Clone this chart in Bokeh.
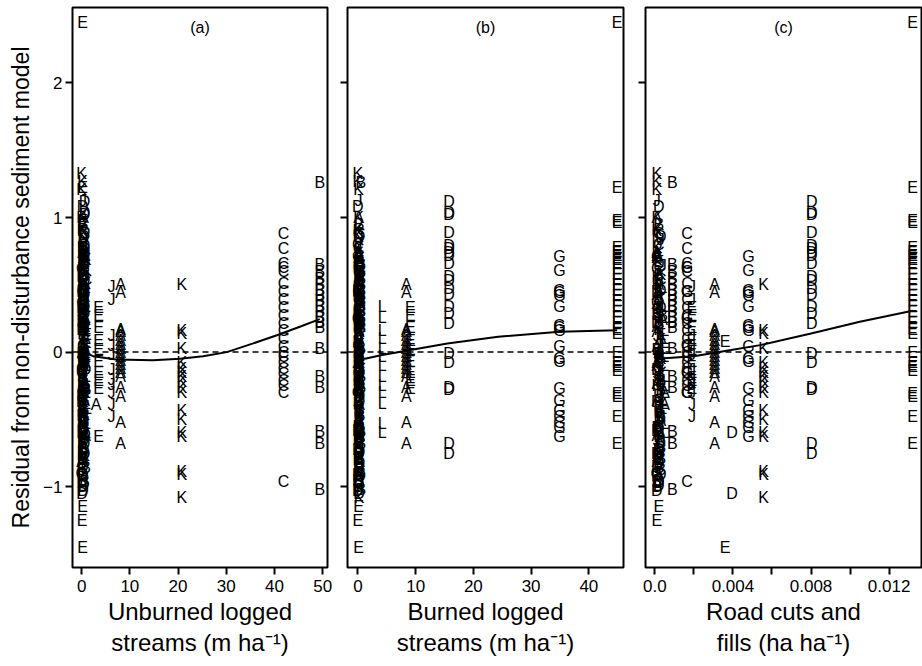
import pandas as pd
from bokeh.plotting import figure
from bokeh.layouts import row
from bokeh.models import (ColumnDataSource, FixedTicker, Range1d, Span, Label,
                          Title, CustomJSTickFormatter)
from bokeh.core.properties import value
from bokeh.embed import file_html
from bokeh.resources import INLINE

# ---------------- data ----------------
# Groups of observations for one site letter sharing the three disturbance values
grp_site = ["A", "J", "K", "C", "B", "G", "D", "E", "L", "E"]
grp_unburned = [8.1, 6.2, 20.8, 41.9, 49.4, 0.4, 0.6, 0.2, 1.0, 3.5]      # m/ha
grp_burned = [8.4, 0.3, 0.2, 0.1, 0.5, 34.9, 15.8, 44.9, 4.2, 9.1]        # m/ha
grp_road = [0.00306, 0.0019, 0.00557, 0.00165, 0.0009, 0.0048, 0.00804,
            0.0132, 0.0005, 0.0019]                                      # ha/ha

resid_A = [0.50, 0.44, 0.17, 0.15, 0.12, 0.09, 0.06, 0.03, 0.0, -0.03, -0.06,
           -0.09, -0.12, -0.15, -0.18, -0.26, -0.33, -0.52, -0.68]
resid_J = [0.49, 0.39, 0.12, 0.05, -0.02, -0.13, -0.20, -0.24, -0.30, -0.39, -0.48]
resid_K = [0.50, 0.16, 0.14, 0.03, -0.08, -0.12, -0.15, -0.18, -0.22, -0.26,
           -0.30, -0.43, -0.50, -0.60, -0.63, -0.89, -0.91, -1.08]
resid_C = [0.88, 0.77, 0.66, 0.63, 0.60, 0.51, 0.45, 0.39, 0.33, 0.27, 0.21,
           0.16, 0.10, 0.04, 0.0, -0.03, -0.08, -0.12, -0.16, -0.21, -0.25,
           -0.30, -0.96]
resid_B = [1.26, 0.65, 0.60, 0.55, 0.50, 0.46, 0.42, 0.38, 0.34, 0.30, 0.26,
           0.22, 0.18, 0.03, -0.18, -0.26, -0.59, -0.68, -1.02]
resid_G = [0.71, 0.61, 0.46, 0.44, 0.42, 0.34, 0.20, 0.18, 0.16, 0.04, -0.05,
           -0.07, -0.27, -0.36, -0.43, -0.48, -0.52, -0.56, -0.63]
resid_D = [1.12, 1.04, 1.02, 0.89, 0.79, 0.77, 0.74, 0.72, 0.66, 0.56, 0.53,
           0.47, 0.43, 0.34, 0.29, 0.21, -0.01, -0.08, -0.26, -0.28, -0.68, -0.75]
resid_E1 = [2.45, 1.22, 0.98, 0.96, 0.78, 0.75, 0.72, 0.69, 0.66, 0.62, 0.58,
            0.54, 0.50, 0.46, 0.42, 0.38, 0.34, 0.30, 0.26, 0.22, 0.17, 0.14,
            0.0, -0.08, -0.11, -0.14, -0.31, -0.33, -0.48, -0.68]
resid_L = [0.34, 0.26, 0.16, 0.10, 0.03, -0.03, -0.10, -0.18, -0.25, -0.30,
           -0.38, -0.53, -0.60]
resid_E2 = [0.33, 0.27, 0.18, 0.09, 0.02, -0.07, -0.15, -0.21, -0.27]
grp_resid = [resid_A, resid_J, resid_K, resid_C, resid_B, resid_G, resid_D,
             resid_E1, resid_L, resid_E2]

# Individual observations of (nearly) undisturbed sites
misc_site = ["K", "K", "K", "J", "D", "K", "A", "K", "J", "K", "A", "E", "J",
             "K", "A", "D", "B", "J", "K", "L", "B", "A", "J", "E", "A", "L",
             "B", "E", "A", "J", "L", "B", "K", "A", "L", "B", "A", "E", "J",
             "B", "D", "E", "B", "L", "D", "B", "D", "G", "D", "B", "D", "D",
             "E", "E", "E", "G", "G", "G", "G", "G", "G"]
misc_resid = [1.33, 1.27, 1.21, 1.13, 1.08, 1.00, 1.00, 0.87, 0.81, 0.78, 0.70,
              0.67, 0.60, 0.56, 0.50, 0.45, 0.40, 0.35, 0.31, 0.26, 0.21, 0.15,
              0.12, 0.08, 0.04, 0.0, -0.03, -0.06, -0.10, -0.14, -0.18, -0.20,
              -0.25, -0.30, -0.35, -0.38, -0.39, -0.45, -0.50, -0.55, -0.60,
              -0.63, -0.65, -0.70, -0.75, -0.80, -0.85, -0.90, -0.95, -1.00,
              -1.03, -1.05, -1.15, -1.25, -1.45, 0.63, 0.45, 0.25, 0.05, -0.15,
              -0.30]
misc_unburned = [0.0, 0.2, 0.0, 0.3, 0.2, 0.0, 0.4, 0.2, 0.5, 0.1, 0.3, 0.6,
                 0.2, 0.0, 0.4, 0.1, 0.5, 0.3, 0.0, 0.8, 0.2, 0.5, 0.1, 0.7,
                 0.3, 0.9, 0.2, 0.6, 0.4, 0.0, 0.8, 0.3, 0.1, 0.5, 0.7, 0.2,
                 3.0, 0.4, 0.0, 0.3, 0.1, 3.5, 0.4, 0.6, 0.2, 0.1, 0.3, 0.0,
                 0.2, 0.1, 0.3, 0.1, 0.2, 0.1, 0.2, 0.5, 0.2, 0.4, 0.3, 0.1,
                 0.2]
misc_burned = [0.0, 0.0, 0.1, 0.1, 0.0, 0.1, 0.1, 0.0, 0.1, 0.2, 0.1, 0.2, 0.0,
               0.1, 0.2, 0.0, 0.1, 0.0, 0.2, 0.1, 0.0, 0.2, 0.1, 0.0, 0.2, 0.1,
               0.0, 0.1, 0.3, 0.1, 0.2, 0.0, 0.1, 0.2, 0.1, 0.0, 0.3, 0.1, 0.2,
               0.0, 0.1, 0.2, 0.0, 0.1, 0.2, 0.0, 0.1, 0.2, 0.0, 0.1, 0.0, 0.2,
               0.1, 0.0, 0.1, 0.2, 0.1, 0.0, 0.1, 0.2, 0.0]
misc_road = [0.0001, 0.0001, 0.0001, 0.0001, 0.0002, 0.0001, 0.0001, 0.0001,
             0.0002, 0.0001, 0.0001, 0.0002, 0.0001, 0.0001, 0.0002, 0.0001,
             0.0002, 0.0001, 0.0001, 0.0003, 0.0002, 0.0001, 0.0001, 0.0036,
             0.0001, 0.0003, 0.0002, 0.0002, 0.0001, 0.0001, 0.0004, 0.0003,
             0.0001, 0.0005, 0.0004, 0.0002, 0.0005, 0.0002, 0.0001, 0.0002,
             0.00395, 0.0002, 0.0003, 0.0002, 0.0001, 0.0002, 0.0001, 0.0001,
             0.0002, 0.0001, 0.0001, 0.00395, 0.0002, 0.0001, 0.0036, 0.00165,
             0.00165, 0.00165, 0.00165, 0.00165, 0.00165]

# More observations from undisturbed sites (dense column near zero)
extra_site = ["B", "K", "J", "A", "D", "C", "K", "B", "L", "A", "J", "D", "B",
              "K", "A", "E", "L", "J", "B", "D", "K", "A", "C", "J", "B", "L",
              "D", "A", "K", "B", "J", "D", "A", "B", "D", "K", "D", "B", "D",
              "D", "C", "K", "A", "L", "J", "B", "D", "B", "C", "A"]
extra_resid = [0.95, 0.90, 0.84, 0.74, 0.66, 0.62, 0.58, 0.53, 0.48, 0.43, 0.38,
               0.33, 0.28, 0.23, 0.19, 0.13, 0.10, 0.06, 0.02, -0.01, -0.05,
               -0.08, -0.12, -0.16, -0.22, -0.27, -0.32, -0.36, -0.41, -0.47,
               -0.52, -0.57, -0.62, -0.67, -0.72, -0.77, -0.82, -0.87, -0.92,
               -0.97, 0.71, 0.47, 0.24, -0.02, -0.19, -0.43, -0.58, -0.79, 0.88,
               0.36]
extra_unburned = [0.3, 0.1, 0.6, 0.2, 0.4, 0.0, 0.5, 0.2, 0.9, 0.3, 0.7, 0.1,
                  0.4, 0.0, 0.6, 1.0, 0.8, 0.2, 0.5, 0.1, 0.3, 0.7, 0.0, 0.4,
                  0.2, 0.9, 0.1, 0.6, 0.3, 0.0, 0.5, 0.2, 0.8, 0.1, 0.4, 0.6,
                  0.2, 0.0, 0.3, 0.1, 0.5, 0.2, 0.7, 1.0, 0.4, 0.1, 0.3, 0.2,
                  0.6, 0.4]
extra_burned = [0.2, 0.0, 0.3, 0.1, 0.2, 0.4, 0.1, 0.3, 0.0, 0.2, 0.1, 0.3, 0.0,
                0.2, 0.4, 0.1, 0.3, 0.0, 0.2, 0.1, 0.4, 0.0, 0.3, 0.1, 0.2, 0.0,
                0.3, 0.1, 0.2, 0.4, 0.0, 0.1, 0.3, 0.2, 0.0, 0.1, 0.3, 0.2, 0.4,
                0.1, 0.0, 0.2, 0.3, 0.1, 0.4, 0.2, 0.0, 0.1, 0.3, 0.2]
extra_road = [0.0002, 0.0001, 0.0003, 0.0001, 0.0002, 0.0001, 0.0003, 0.0002,
              0.0004, 0.0001, 0.0002, 0.0003, 0.0001, 0.0002, 0.0001, 0.0003,
              0.0004, 0.0002, 0.0001, 0.0002, 0.0003, 0.0001, 0.0002, 0.0001,
              0.0003, 0.0004, 0.0002, 0.0001, 0.0002, 0.0003, 0.0001, 0.0002,
              0.0001, 0.0003, 0.0002, 0.0001, 0.0002, 0.0003, 0.0001, 0.0002,
              0.0001, 0.0002, 0.0004, 0.0003, 0.0001, 0.0002, 0.0001, 0.0003,
              0.0002, 0.0001]

more_site = ["K", "D", "C", "A", "J", "B", "K", "D", "A", "C", "J", "B", "D",
             "K", "A", "L", "J", "B", "C", "D", "K", "A", "B", "J", "D", "L",
             "K", "A", "B", "D", "J", "B", "D", "A", "B", "D", "B", "D", "C",
             "K", "A", "J", "B", "D", "K"]
more_resid = [0.92, 0.86, 0.80, 0.72, 0.64, 0.57, 0.51, 0.46, 0.41, 0.37, 0.32,
              0.27, 0.22, 0.17, 0.11, 0.07, 0.01, -0.04, -0.09, -0.13, -0.17,
              -0.23, -0.28, -0.33, -0.37, -0.42, -0.46, -0.51, -0.56, -0.61,
              -0.66, -0.71, -0.76, -0.81, -0.86, -0.91, -0.96, -0.99, 0.54, 0.29,
              0.0, -0.24, -0.49, -0.74, 0.69]
more_unburned = [0.1, 0.5, 0.3, 0.7, 0.0, 0.4, 0.8, 0.2, 0.6, 0.1, 0.9, 0.3,
                 0.5, 0.0, 0.7, 1.1, 0.2, 0.6, 0.4, 0.8, 0.1, 0.3, 0.9, 0.5,
                 0.0, 1.2, 0.6, 0.2, 0.4, 0.7, 0.1, 0.3, 0.5, 0.0, 0.8, 0.2,
                 0.6, 0.4, 1.0, 0.3, 0.1, 0.7, 0.5, 0.2, 0.9]
more_burned = [0.1, 0.3, 0.0, 0.2, 0.4, 0.1, 0.3, 0.0, 0.2, 0.4, 0.1, 0.0, 0.3,
               0.2, 0.1, 0.4, 0.0, 0.2, 0.3, 0.1, 0.0, 0.4, 0.2, 0.1, 0.3, 0.0,
               0.2, 0.1, 0.4, 0.3, 0.0, 0.2, 0.1, 0.3, 0.4, 0.0, 0.2, 0.1, 0.3,
               0.0, 0.2, 0.4, 0.1, 0.3, 0.2]
more_road = [0.0001, 0.0003, 0.0002, 0.0001, 0.0004, 0.0002, 0.0001, 0.0003,
             0.0002, 0.0001, 0.0002, 0.0004, 0.0001, 0.0002, 0.0003, 0.0005,
             0.0001, 0.0002, 0.0003, 0.0001, 0.0002, 0.0001, 0.0003, 0.0002,
             0.0001, 0.0004, 0.0002, 0.0003, 0.0001, 0.0002, 0.0001, 0.0003,
             0.0002, 0.0001, 0.0002, 0.0003, 0.0001, 0.0002, 0.0003, 0.0001,
             0.0002, 0.0001, 0.0003, 0.0002, 0.0001]

# Smooth (lowess) curves
curve_a_x = [0.2, 2.4, 7.2, 14.8, 20.4, 25.2, 30.1, 35.6, 40.5, 45.4, 49.4]
curve_a_y = [0.0, -0.03, -0.055, -0.06, -0.05, -0.03, 0.0, 0.065, 0.125, 0.19, 0.245]
curve_b_x = [0.0, 4.2, 9.6, 15.5, 24.3, 34.9, 44.9]
curve_b_y = [-0.06, -0.022, 0.02, 0.064, 0.114, 0.151, 0.163]
curve_c_x = [0.0001, 0.002, 0.0039, 0.0054, 0.008, 0.0105, 0.0132]
curve_c_y = [-0.05, -0.03, 0.015, 0.052, 0.139, 0.225, 0.307]

ticks_a = [0, 10, 20, 30, 40, 50]
ticks_b = [0, 10, 20, 30, 40]
ticks_c = [0.0, 0.002, 0.004, 0.006, 0.008, 0.010, 0.012]
ticks_y = [-1, 0, 1, 2]

panel_tags = ["(a)", "(b)", "(c)"]
xtitles = [("Unburned logged", "streams (m ha\u207b\u00b9)"),
           ("Burned logged", "streams (m ha\u207b\u00b9)"),
           ("Road cuts and", "fills (ha ha\u207b\u00b9)")]
ylabel = "Residual from non-disturbance sediment model"

# ---------------- build table ----------------
rows = []
for s, xa, xb, xc, rs in zip(grp_site, grp_unburned, grp_burned, grp_road, grp_resid):
    for r in rs:
        rows.append((s, r, xa, xb, xc))
for lists in ((misc_site, misc_resid, misc_unburned, misc_burned, misc_road),
              (extra_site, extra_resid, extra_unburned, extra_burned, extra_road),
              (more_site, more_resid, more_unburned, more_burned, more_road)):
    for s, r, xa, xb, xc in zip(*lists):
        rows.append((s, r, xa, xb, xc))
df = pd.DataFrame(rows, columns=["site", "resid", "xa", "xb", "xc"])
src = ColumnDataSource(df)

FONT = "Liberation Sans"


def make_panel(xcol, xr, ticks, curve_x, curve_y, tag, titles, width, bl, br, first):
    p = figure(width=width, height=666, x_range=Range1d(*xr),
               y_range=Range1d(-1.60, 2.56), output_backend="svg",
               toolbar_location=None, min_border_left=bl, min_border_right=br,
               min_border_top=7, min_border_bottom=99)
    p.grid.visible = False
    p.outline_line_color = "black"
    p.outline_line_width = 2
    p.background_fill_color = "white"
    p.border_fill_color = "white"

    for ax in (p.xaxis[0], p.yaxis[0]):
        ax.axis_line_color = None
        ax.major_tick_in = 0
        ax.major_tick_out = 7
        ax.major_tick_line_width = 2
        ax.major_tick_line_color = "black"
        ax.minor_tick_line_color = None
        ax.major_label_text_font = FONT
        ax.major_label_text_font_size = "17px"
        ax.major_label_text_color = "black"

    p.xaxis.ticker = FixedTicker(ticks=ticks)
    p.xaxis.major_label_standoff = 5
    p.yaxis.ticker = FixedTicker(ticks=ticks_y)
    if first:
        p.yaxis.major_label_standoff = 3
        p.yaxis.major_label_orientation = "horizontal"
        p.yaxis.axis_label = ylabel
        p.yaxis.axis_label_text_font = FONT
        p.yaxis.axis_label_text_font_size = "23px"
        p.yaxis.axis_label_text_font_style = "normal"
        p.yaxis.axis_label_text_color = "black"
        p.yaxis.axis_label_standoff = 6
    else:
        p.yaxis.major_label_text_font_size = "0px"
        p.yaxis.major_label_standoff = 0

    p.add_layout(Span(location=0, dimension="width", line_color="black",
                      line_dash="6 4", line_width=1.5))
    p.text(x=xcol, y="resid", text="site", source=src, text_align="center",
           text_baseline="middle", text_font=value(FONT),
           text_font_size=value("16px"), text_color="black")
    p.line(curve_x, curve_y, line_color="black", line_width=2)

    p.add_layout(Label(x=(xr[0] + xr[1]) / 2, y=2.41, text=tag,
                       text_align="center", text_baseline="middle",
                       text_font=FONT, text_font_size="16px", text_color="black"))
    for t in titles:
        p.add_layout(Title(text=t, align="center", text_font=FONT,
                           text_font_size="24px", text_font_style="normal",
                           text_color="black", standoff=2), "below")
    return p


pa = make_panel("xa", (-1.9, 51.0), ticks_a, curve_a_x, curve_a_y, panel_tags[0],
                xtitles[0], 337, 72, 10, True)
pb = make_panel("xb", (-1.8, 46.0), ticks_b, curve_b_x, curve_b_y, panel_tags[1],
                xtitles[1], 297, 10, 11, False)
pc = make_panel("xc", (-0.00048, 0.01366), ticks_c, curve_c_x, curve_c_y, panel_tags[2],
                xtitles[2], 288, 11, 1, False)
pc.xaxis.formatter = CustomJSTickFormatter(code="""
const k = Math.round(tick / 0.002);
if (k % 2 !== 0) { return ''; }
if (k === 0) { return '0.0'; }
return tick.toFixed(3);
""")

layout = row(pa, pb, pc, spacing=0)
open("out.html", "w").write(file_html(layout, INLINE))
